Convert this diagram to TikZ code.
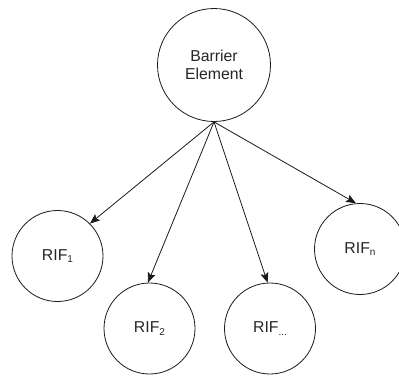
\documentclass[tikz,border=0pt]{standalone}
\usepackage{fontspec}
\setmainfont{Liberation Sans}
\usetikzlibrary{arrows.meta}
\definecolor{ink}{HTML}{1A1A1A}
\definecolor{txt}{HTML}{262626}
\newcommand{\lowidx}[1]{\raisebox{-2.8pt}{\fontsize{10}{10}\selectfont #1}}
\begin{document}
\begin{tikzpicture}[x=1pt,y=-1pt,
  bubble/.style={circle,draw=ink,line width=0.8pt,inner sep=0pt,
    minimum size=91pt,text=txt,font=\fontsize{15.8}{17.5}\selectfont,align=center},
  big/.style={bubble,minimum size=113pt},
  link/.style={draw=ink,line width=0.8pt,-{Stealth[length=10pt,width=8pt,inset=2pt]}}]
  \useasboundingbox (0,0) rectangle (399,376);
  \node[big] (be) at (214,65) {Barrier\\Element};
  \node[bubble] (r1) at (57.5,256) {RIF\lowidx{1}};
  \node[bubble] (r2) at (149.5,328.5) {RIF\lowidx{2}};
  \node[bubble] (rd) at (270,328.5) {RIF\lowidx{...}};
  \node[bubble] (rn) at (360,249) {RIF\lowidx{n}};
  \coordinate (hub) at (be.south);
  \draw[link] (hub) -- (r1.45);
  \draw[link] (hub) -- (r2.92);
  \draw[link] (hub) -- (rd.93);
  \draw[link] (hub) -- (rn.95);
\end{tikzpicture}
\end{document}
